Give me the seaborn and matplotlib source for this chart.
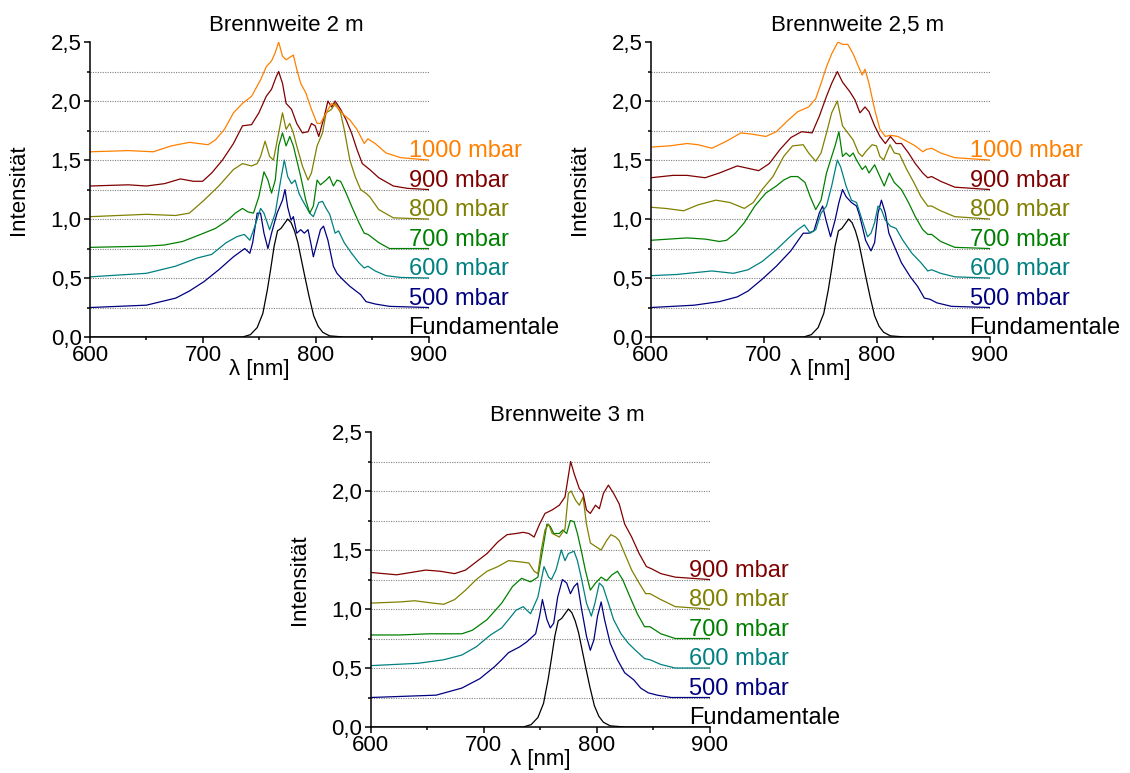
import numpy as np
import pandas as pd
import seaborn as sns
import matplotlib.pyplot as plt
from matplotlib.ticker import MultipleLocator, FuncFormatter


# --- values: (wavelength nm, intensity incl. offset) ---
fundamental = [(600, 0), (735, 0), (742, 0.02), (748, 0.08), (753, 0.2), (757, 0.4), (760, 0.58),
               (763, 0.77), (766, 0.9), (769, 0.92), (772, 0.96), (775, 1.0), (778, 0.97), (781, 0.9),
               (784, 0.8), (787, 0.66), (790, 0.52), (794, 0.34), (798, 0.18), (802, 0.09), (806, 0.04),
               (812, 0.01), (825, 0), (900, 0)]

# Brennweite 2 m
bw2_500 = [(600, .25), (650, .27), (676, .33), (688, .39), (701, .47), (714, .57), (727, .68), (737, .75),
           (741.5, .71), (744, .80), (748, 1.05), (751, 1.05), (754, .88), (757.5, .75), (760.7, .88),
           (765.6, 1.05), (770.4, 1.16), (772.6, 1.25), (775, 1.1), (778, .99), (780, 1.02), (783, .88),
           (786.5, .91), (789.7, .88), (793, .91), (796, .77), (797.7, .68), (801, .8), (804, .91),
           (806.7, .94), (810.6, .82), (815.4, .6), (818.6, .54), (823.4, .49), (830, .43), (839.5, .36),
           (844.3, .30), (852.4, .28), (865, .26), (900, .25)]
bw2_600 = [(600, .51), (650, .54), (675.6, .6), (695, .67), (707.7, .70), (720.6, .80), (730, .85),
           (736.6, .87), (741.5, .82), (746, .94), (751, 1.09), (754, 1.05), (759, .91), (764, 1.05),
           (768.8, 1.33), (772, 1.5), (775, 1.36), (778.4, 1.30), (781.6, 1.33), (784.9, 1.22), (788, 1.16),
           (791, 1.11), (794.5, 1.05), (797.7, 1.02), (802.5, 1.14), (805.8, 1.15), (809, 1.09),
           (812.2, 1.04), (817, .88), (820, .90), (825, .8), (831.5, .71), (838, .63), (842.7, .585),
           (846, .6), (852.4, .56), (862, .52), (875, .505), (900, .5)]
bw2_700 = [(600, .76), (650, .77), (666, .78), (682, .81), (698, .87), (711, .92), (722, .99), (728.6, 1.05),
           (735, 1.09), (740, 1.06), (744.7, 1.05), (749.5, 1.19), (754, 1.40), (757.5, 1.33), (760.7, 1.22),
           (764, 1.33), (767, 1.62), (770.4, 1.73), (773.6, 1.62), (776.8, 1.70), (780, 1.62), (783, 1.50),
           (786.5, 1.36), (791, 1.16), (794.5, 1.05), (797.7, 1.11), (801, 1.33), (804, 1.29), (809, 1.33),
           (812, 1.36), (815.4, 1.28), (818.6, 1.33), (821.8, 1.32), (826.7, 1.22), (831.5, 1.11),
           (838, .97), (842.7, .88), (846, .87), (855.6, .80), (865, .75), (900, .75)]
bw2_800 = [(600, 1.02), (650, 1.04), (675.6, 1.03), (688, 1.05), (701, 1.16), (714, 1.28), (727, 1.42),
           (735, 1.47), (743, 1.45), (748, 1.47), (751, 1.53), (755, 1.66), (759, 1.53), (762.4, 1.50),
           (767, 1.73), (770.4, 1.90), (773.6, 1.76), (776.8, 1.81), (780, 1.73), (783, 1.62), (788, 1.45),
           (793, 1.33), (796, 1.39), (801, 1.62), (805.8, 1.73), (809, 1.90), (813.8, 1.93), (817, 1.98),
           (821.8, 1.90), (825, 1.76), (830, 1.50), (834.7, 1.36), (839.5, 1.25), (844, 1.22),
           (847.5, 1.19), (855.6, 1.08), (868.5, 1.01), (900, 1.0)]
bw2_900 = [(600, 1.28), (634, 1.29), (650, 1.28), (666, 1.30), (680, 1.34), (691.6, 1.32), (699.7, 1.32),
           (707.7, 1.39), (717.3, 1.50), (727, 1.64), (735, 1.79), (743, 1.80), (749.5, 1.90), (756, 2.04),
           (760.7, 2.10), (765, 2.21), (767, 2.25), (770.4, 2.15), (773.6, 1.98), (778.4, 1.93), (783, 1.81),
           (788, 1.73), (793, 1.74), (796, 1.81), (799.3, 1.79), (802.5, 1.70), (807.4, 1.87), (810.6, 2.0),
           (813.8, 1.95), (817, 2.0), (821.8, 1.93), (826.7, 1.84), (831.5, 1.73), (836.3, 1.59),
           (841, 1.47), (847.5, 1.42), (855.6, 1.35), (868.5, 1.28), (881, 1.26), (900, 1.25)]
bw2_1000 = [(600, 1.57), (634, 1.58), (656, 1.57), (672, 1.62), (688, 1.65), (704.5, 1.63), (711, 1.67),
            (719, 1.76), (727, 1.90), (735, 1.98), (743, 2.04), (751, 2.18), (756, 2.29), (760.7, 2.34),
            (764, 2.41), (767, 2.50), (770.4, 2.38), (773.6, 2.35), (776.8, 2.37), (780, 2.39), (783, 2.27),
            (786.5, 2.15), (791, 2.07), (796, 1.93), (801, 1.81), (804, 1.81), (809, 1.90), (813.8, 1.98),
            (818.6, 1.95), (825, 1.88), (830, 1.84), (836.3, 1.76), (842.7, 1.64), (846, 1.68),
            (852.4, 1.64), (862, 1.56), (875, 1.52), (900, 1.5)]

# Brennweite 2,5 m
bw25_500 = [(600, .25), (638.5, .27), (660.6, .30), (676.4, .34), (686, .39), (698.5, .49), (711, .60),
            (723.8, .73), (734.8, .88), (739.6, .88), (744.3, .90), (749, 1.05), (752, 1.11), (755, .99),
            (759, .85), (763, .99), (766.4, 1.14), (769.6, 1.25), (772.7, 1.19), (777.5, 1.14), (782, 1.11),
            (785, 1.02), (790, .82), (794.8, .73), (798, .80), (801, 1.05), (804, 1.16), (807.5, 1.05),
            (810.6, .88), (815.4, .77), (821.7, .63), (829.6, .51), (836, .43), (842, .33), (847, .32),
            (853, .29), (866, .26), (900, .25)]
bw25_600 = [(600, .52), (622.7, .53), (654, .56), (673, .54), (686, .57), (698.5, .64), (711, .74),
            (722, .84), (730, .91), (735.8, .95), (741, .88), (745.9, .91), (750.6, 1.05), (755.4, 1.11),
            (760, 1.28), (765, 1.50), (768, 1.44), (772.7, 1.28), (777.5, 1.16), (782, 1.14), (787, .99),
            (791.7, .85), (794.8, .88), (798, .97), (801, 1.11), (804, 1.08), (807.5, .99), (812, .94),
            (817, .92), (823, .82), (831, .71), (839, .63), (845, .56), (848.5, .57), (856.4, .54),
            (869, .51), (900, .5)]
bw25_700 = [(600, .82), (616, .83), (632, .84), (648, .83), (660.6, .81), (667, .82), (674.8, .88),
            (682.7, .97), (692, 1.11), (701.7, 1.22), (711, 1.28), (717.5, 1.33), (723.8, 1.36), (730, 1.36),
            (736.4, 1.31), (741, 1.19), (745.9, 1.08), (750.6, 1.16), (755.4, 1.39), (760, 1.53),
            (763, 1.62), (766.4, 1.74), (769.6, 1.53), (772.7, 1.56), (776, 1.53), (779, 1.56), (782, 1.50),
            (787, 1.42), (790, 1.45), (793, 1.39), (798, 1.46), (802.7, 1.36), (806.5, 1.28), (811, 1.39),
            (815.4, 1.31), (821.7, 1.25), (828, 1.14), (834, 1.02), (840.6, .91), (845, .87), (848.5, .87),
            (856.4, .81), (869, .76), (900, .75)]
bw25_800 = [(600, 1.10), (613, 1.09), (629, 1.07), (641.7, 1.12), (657.5, 1.16), (670, 1.14), (682.7, 1.09),
            (690.6, 1.14), (698.5, 1.25), (708, 1.36), (717.5, 1.53), (725.4, 1.62), (734.8, 1.63),
            (739.6, 1.56), (745.9, 1.49), (750.6, 1.56), (755.4, 1.73), (760, 1.90), (765, 2.00),
            (769.6, 1.79), (774.3, 1.73), (779, 1.67), (783.8, 1.56), (787, 1.53), (790, 1.57),
            (795.8, 1.63), (799.6, 1.62), (802.7, 1.53), (806, 1.50), (809, 1.57), (811.6, 1.63),
            (815.4, 1.56), (820, 1.55), (826.4, 1.42), (832.7, 1.31), (839, 1.19), (845, 1.11),
            (848.5, 1.11), (856.4, 1.07), (869, 1.02), (900, 1.0)]
bw25_900 = [(600, 1.35), (619.6, 1.37), (632, 1.37), (648, 1.35), (660.6, 1.39), (676.4, 1.45), (686, 1.43),
            (695.4, 1.41), (704.8, 1.47), (714.3, 1.59), (723.8, 1.69), (733.3, 1.74), (742.7, 1.73),
            (749, 1.87), (755.4, 2.04), (760, 2.15), (765, 2.25), (769.6, 2.16), (776, 2.08), (780.6, 2.01),
            (785, 1.90), (789.5, 1.95), (793, 1.91), (798, 1.79), (802.7, 1.70), (807.5, 1.64), (812, 1.70),
            (817, 1.64), (821.7, 1.64), (828, 1.56), (834, 1.47), (840.6, 1.39), (845, 1.35), (848.5, 1.36),
            (856.4, 1.32), (869, 1.27), (900, 1.25)]
bw25_1000 = [(600, 1.61), (616.4, 1.62), (632, 1.64), (641.7, 1.63), (654, 1.60), (667, 1.66), (679.6, 1.73),
             (689, 1.72), (701.7, 1.70), (711, 1.74), (720.6, 1.83), (730, 1.91), (739.6, 1.95),
             (745.9, 2.02), (750.6, 2.15), (755.4, 2.29), (760, 2.40), (765.5, 2.50), (769.6, 2.48),
             (774.3, 2.48), (779, 2.40), (783.8, 2.29), (787, 2.22), (789.5, 2.27), (793, 2.15), (798, 1.93),
             (802.7, 1.76), (807.5, 1.70), (812, 1.71), (818.5, 1.70), (826.4, 1.66), (834, 1.62),
             (840.6, 1.57), (843.8, 1.59), (848.5, 1.60), (856.4, 1.56), (869, 1.52), (900, 1.5)]

# Brennweite 3 m
bw3_500 = [(600, .25), (658, .27), (680.7, .33), (696.7, .41), (709.5, .51), (716, .57), (722, .63),
           (732, .68), (738, .72), (746, .79), (749.5, .94), (752, 1.08), (756, .91), (759, .84), (762, .88),
           (765.5, 1.10), (769.7, 1.25), (773.5, 1.22), (776.8, 1.13), (780, 1.19), (783, 1.22),
           (786.3, 1.02), (791, .77), (794.4, .65), (797.6, .74), (800.8, .94), (804, 1.06), (807, .91),
           (812, .71), (818.4, .57), (824.8, .46), (832.8, .40), (839, .33), (845.6, .29), (853.6, .27),
           (866, .25), (900, .25)]
bw3_600 = [(600, .52), (642, .54), (664.7, .57), (680.7, .61), (693.5, .68), (706, .78), (716, .84),
           (722, .91), (728.7, .99), (735, 1.02), (741.5, .96), (748, 1.10), (753.4, 1.36), (757.5, 1.27),
           (760, 1.25), (764, 1.33), (768.7, 1.50), (772, 1.41), (775, 1.47), (780, 1.49), (783, 1.41),
           (786.3, 1.27), (791, 1.05), (795.3, .94), (798.5, 1.05), (802.4, 1.22), (805.6, 1.19),
           (810.4, 1.05), (815, .91), (821.6, .79), (828, .71), (834.4, .65), (842.4, .58), (847.2, .57),
           (856.8, .53), (869.6, .50), (900, .5)]
bw3_700 = [(600, .78), (626, .78), (652, .79), (671, .79), (680.7, .79), (690, .82), (703, .91), (716, 1.05),
           (725.5, 1.19), (733.5, 1.26), (741.5, 1.23), (748, 1.27), (752.7, 1.53), (756, 1.72), (759, 1.70),
           (762, 1.64), (767, 1.64), (770, 1.67), (773.5, 1.64), (776.7, 1.75), (780, 1.74), (783, 1.64),
           (786.3, 1.50), (790, 1.33), (794.4, 1.16), (799, 1.22), (804, 1.27), (808.8, 1.24),
           (813.6, 1.29), (818.4, 1.32), (823, 1.25), (829.6, 1.10), (836, .96), (842.4, .85), (847.2, .85),
           (856.8, .79), (869.6, .75), (900, .75)]
bw3_800 = [(600, 1.05), (626, 1.06), (639, 1.07), (655, 1.05), (664.7, 1.04), (674.3, 1.08), (684, 1.16),
           (693.5, 1.25), (703, 1.32), (712.7, 1.36), (722, 1.41), (732, 1.40), (740, 1.39), (744.7, 1.32),
           (748, 1.30), (751, 1.50), (754.3, 1.67), (757.5, 1.72), (760.7, 1.64), (767, 1.61), (772, 1.68),
           (775, 1.98), (777.4, 2.0), (781.5, 1.92), (784.7, 1.88), (788, 1.95), (791, 1.72), (794.4, 1.56),
           (799, 1.53), (804, 1.50), (808.8, 1.58), (812.6, 1.63), (816.8, 1.61), (820, 1.58),
           (824.8, 1.47), (831, 1.33), (837.6, 1.22), (843.4, 1.13), (847.2, 1.13), (856.8, 1.08),
           (869.6, 1.02), (900, 1.0)]
bw3_900 = [(600, 1.31), (623, 1.29), (636, 1.31), (648.7, 1.33), (661.5, 1.32), (674.3, 1.30), (684, 1.33),
           (693.5, 1.40), (703, 1.47), (712.7, 1.57), (720.7, 1.63), (728.7, 1.64), (735, 1.65), (740, 1.64),
           (744.7, 1.61), (749.5, 1.72), (754.3, 1.81), (760.7, 1.84), (767, 1.88), (772, 1.95), (775, 2.13),
           (777, 2.25), (780, 2.15), (784.7, 2.02), (788, 1.98), (791, 1.84), (794.4, 1.81), (799, 1.88),
           (802.4, 1.85), (806, 1.98), (810.4, 2.05), (815, 1.98), (820, 1.89), (824.8, 1.72), (831, 1.61),
           (837.6, 1.47), (844, 1.36), (848.8, 1.34), (856.8, 1.30), (869.6, 1.27), (900, 1.25)]

series_names = ['Fundamentale', '500 mbar', '600 mbar', '700 mbar', '800 mbar', '900 mbar', '1000 mbar']
offsets = [0, 0.25, 0.5, 0.75, 1.0, 1.25, 1.5]
colors = ['black', '#000080', '#008080', '#008000', '#808000', '#800000', '#FF8000']


sns.set_style('ticks')
plt.rcParams['font.family'] = ['Liberation Sans', 'DejaVu Sans']
plt.rcParams['text.color'] = 'black'
plt.rcParams['axes.labelcolor'] = 'black'
plt.rcParams['xtick.color'] = 'black'
plt.rcParams['ytick.color'] = 'black'

fig = plt.figure(figsize=(11.3, 7.73), dpi=100)

comma = FuncFormatter(lambda v, p: f'{v:.1f}'.replace('.', ','))


def to_frame(curves):
    rows = []
    for name, pts in curves.items():
        for wl, val in pts:
            rows.append((name, wl, val))
    return pd.DataFrame(rows, columns=['series', 'wl', 'intensity'])


def draw(rect, title, title_x, curves):
    ax = fig.add_axes(rect)
    for g in np.arange(0.25, 2.3, 0.25):
        ax.axhline(g, color='#808080', ls=(0, (1, 1.2)), lw=0.8, zorder=0)

    df = to_frame(curves)
    pal = {n: c for n, c in zip(series_names, colors) if n in curves}
    sns.lineplot(data=df, x='wl', y='intensity', hue='series', palette=pal,
                 estimator=None, lw=0.9, legend=False, ax=ax)

    for n, off, c in zip(series_names, offsets, colors):
        if n in curves:
            ax.text(882, off + 0.025, n, color=c, fontsize=17, va='baseline', ha='left')

    ax.set_xlim(600, 900)
    ax.set_ylim(0, 2.5)
    ax.xaxis.set_major_locator(MultipleLocator(100))
    ax.xaxis.set_minor_locator(MultipleLocator(50))
    ax.yaxis.set_major_locator(MultipleLocator(0.5))
    ax.yaxis.set_minor_locator(MultipleLocator(0.25))
    ax.yaxis.set_major_formatter(comma)
    ax.tick_params(which='major', length=4, width=1.1, labelsize=16, pad=2, color='black')
    ax.tick_params(which='minor', length=2.5, width=1.1, color='black')
    sns.despine(ax=ax)
    for s in ['left', 'bottom']:
        ax.spines[s].set_linewidth(1.1)
        ax.spines[s].set_color('black')

    ax.set_xlabel('λ [nm]', fontsize=16)
    ax.set_ylabel('Intensität', fontsize=16)
    ax.xaxis.set_label_coords(0.5, -0.075)
    ax.yaxis.set_label_coords(-0.18, 0.5)
    ax.set_title(title, fontsize=16, x=title_x, pad=8, color='black')
    return ax


draw([0.0796, 0.564, 0.300, 0.3816], 'Brennweite 2 m', 0.58,
     {'Fundamentale': fundamental, '500 mbar': bw2_500, '600 mbar': bw2_600, '700 mbar': bw2_700,
      '800 mbar': bw2_800, '900 mbar': bw2_900, '1000 mbar': bw2_1000})
draw([0.576, 0.564, 0.300, 0.3816], 'Brennweite 2,5 m', 0.61,
     {'Fundamentale': fundamental, '500 mbar': bw25_500, '600 mbar': bw25_600, '700 mbar': bw25_700,
      '800 mbar': bw25_800, '900 mbar': bw25_900, '1000 mbar': bw25_1000})
draw([0.328, 0.0595, 0.300, 0.3816], 'Brennweite 3 m', 0.58,
     {'Fundamentale': fundamental, '500 mbar': bw3_500, '600 mbar': bw3_600, '700 mbar': bw3_700,
      '800 mbar': bw3_800, '900 mbar': bw3_900})

fig.savefig('out.png', dpi=100, facecolor='white')
